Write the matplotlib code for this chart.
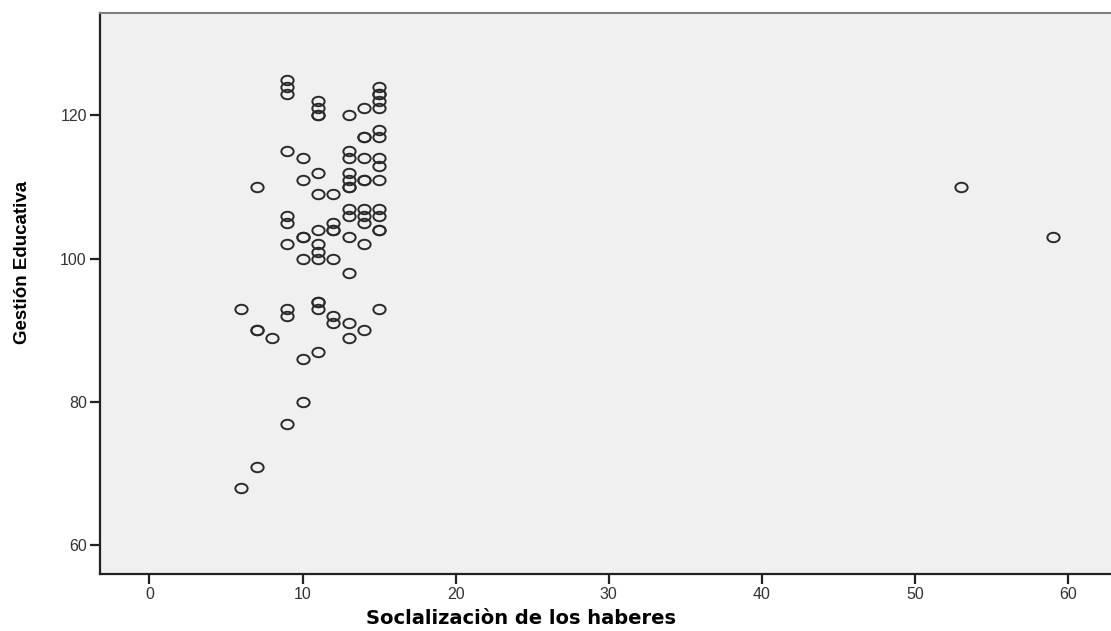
import matplotlib
matplotlib.use("Agg")
import matplotlib.pyplot as plt
from matplotlib.markers import MarkerStyle
from matplotlib.transforms import Affine2D

# Socializacion de los haberes (x) vs Gestion Educativa (y)
soc = [6, 6,
       7, 7, 7, 7,
       8,
       9, 9, 9, 9, 9, 9, 9, 9, 9, 9,
       10, 10, 10, 10, 10, 10, 10,
       11, 11, 11, 11, 11, 11, 11, 11, 11, 11, 11, 11, 11, 11,
       12, 12, 12, 12, 12, 12, 12,
       13, 13, 13, 13, 13, 13, 13, 13, 13, 13, 13, 13, 13,
       14, 14, 14, 14, 14, 14, 14, 14, 14, 14, 14,
       15, 15, 15, 15, 15, 15, 15, 15, 15, 15, 15, 15, 15, 15, 15,
       53, 59]
gestion = [93, 68,
           110, 90, 90, 71,
           89,
           125, 124, 123, 115, 106, 105, 102, 93, 92, 77,
           114, 111, 103, 103, 100, 86, 80,
           122, 121, 120, 120, 112, 109, 104, 102, 101, 100, 94, 94, 93, 87,
           109, 105, 104, 104, 100, 92, 91,
           120, 115, 114, 112, 111, 110, 110, 107, 106, 103, 98, 91, 89,
           121, 117, 117, 114, 111, 111, 107, 106, 105, 102, 90,
           124, 123, 123, 122, 121, 118, 117, 114, 113, 111, 107, 106, 104, 104, 93,
           110, 103]

xticks = [0, 10, 20, 30, 40, 50, 60]
yticks = [60, 80, 100, 120]

fig = plt.figure(figsize=(11.11, 6.31), dpi=100)
ax = fig.add_axes([100 / 1111, 1 - 574 / 631, 1 - 100 / 1111, (574 - 13) / 631])
ax.set_facecolor("#f0f0f0")

marker = MarkerStyle("o", transform=Affine2D().scale(1.3, 1.0))
ax.plot(soc, gestion, linestyle="none", marker=marker, markersize=6.8,
        markerfacecolor="none", markeredgecolor="#2a2a2a", markeredgewidth=1.4)

ax.set_xlim(-3.23, 62.8)
ax.set_ylim(56.0, 134.3)
ax.set_xticks(xticks)
ax.set_yticks(yticks)

for side in ["left", "bottom"]:
    ax.spines[side].set_color("#222222")
    ax.spines[side].set_linewidth(1.6)
ax.spines["top"].set_color("#808080")
ax.spines["top"].set_linewidth(1.5)
ax.spines["right"].set_visible(False)

ax.tick_params(axis="both", direction="out", length=7.5, width=1.6, color="#222222",
               labelsize=11.5, labelcolor="#333333", pad=2)
for lab in ax.get_xticklabels() + ax.get_yticklabels():
    lab.set_family(["Liberation Sans", "DejaVu Sans"])

ax.set_xlabel("Soclalizaciòn de los haberes", fontsize=14, fontweight="bold",
              family=["DejaVu Sans"])
ax.xaxis.set_label_coords(0.416, -0.062)
ax.set_ylabel("Gestión Educativa", fontsize=13.5, fontweight="bold",
              family=["Liberation Sans", "DejaVu Sans"])
ax.yaxis.set_label_coords(-0.068, 0.556)

fig.savefig("out.png", dpi=100)
